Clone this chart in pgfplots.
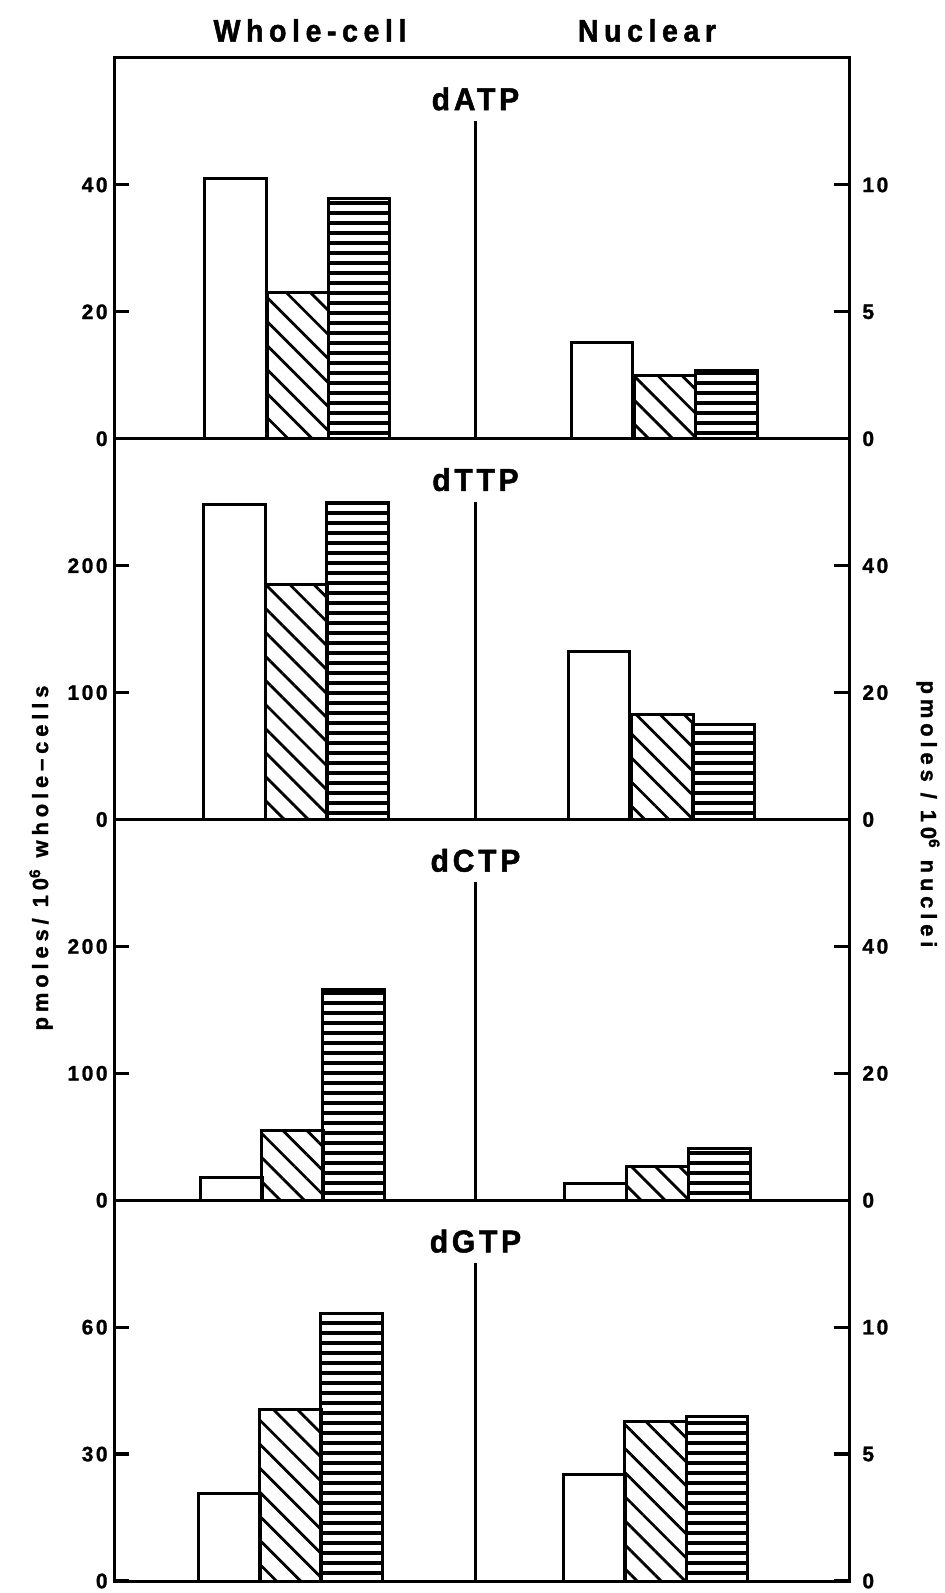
\documentclass[border=0pt]{standalone}
\usepackage{pgfplots}
\pgfplotsset{compat=1.18}
\usepackage{fontspec}
\setmainfont{Liberation Sans}
\newfontfamily\tickfont{Liberation Sans}[LetterSpace=12, BoldFeatures={FakeBold=1.2}]
\newfontfamily\headfont{Liberation Sans}[LetterSpace=18, FakeStretch=0.92, BoldFeatures={FakeBold=1.5}]
\newfontfamily\titlefont{Liberation Sans}[LetterSpace=12, FakeStretch=0.95, BoldFeatures={FakeBold=1.5}]
\newfontfamily\labfont{Liberation Sans}[LetterSpace=22, BoldFeatures={FakeBold=1.2}]
\usetikzlibrary{patterns.meta}

\pgfplotsset{
  panel/.style={scale only axis, width=367.5pt, height=190.375pt,
    xmin=0, xmax=735, ymin=0, anchor=south west,
    axis line style={line width=1.5pt}, xtick=\empty,
    tick align=inside, major tick length=7.5pt,
    every tick/.style={line width=1.6pt, black},
    /pgf/number format/assume math mode=true},
  leftax/.style={panel, ytick pos=left,
    yticklabel style={anchor=east, inner sep=0pt, xshift=-3pt,
      font=\tickfont\bfseries\fontsize{10.5}{12}\selectfont}},
  rightax/.style={panel, axis y line*=right, axis x line=none,
    yticklabel style={anchor=west, inner sep=0pt, xshift=6.5pt,
      font=\tickfont\bfseries\fontsize{10.5}{12}\selectfont}},
  bar/.style={ybar, bar width=61.5, bar shift=0pt, draw=black, line width=1.5pt},
  openbar/.style={bar, fill=white},
  diagbar/.style={bar, pattern={Lines[angle=-45,distance=8.5pt,line width=1.4pt]}, pattern color=black},
  horizbar/.style={bar, pattern={Lines[angle=0,distance=5pt,line width=1.6pt]}, pattern color=black},
}
\newcommand{\divider}[1]{%
  \draw[line width=1.2pt] (rel axis cs:0.4918,0) -- (rel axis cs:0.4918,0.835);
  \node[font=\titlefont\bfseries\fontsize{15.8}{18}\selectfont] at (rel axis cs:0.4918,0.8926) {#1};}

\begin{document}
\begin{tikzpicture}
\useasboundingbox (0,0) rectangle (472.5pt,796.5pt);

% ---------- dATP ----------
\begin{axis}[leftax, at={(57pt,577.125pt)}, ymax=60, ytick={0,20,40}, yticklabels={0,20,40}]
\addplot[openbar] coordinates {(121.5,41)};
\addplot[diagbar] coordinates {(184,23)};
\addplot[horizbar] coordinates {(245,37.8)};
\divider{dATP}
\end{axis}
\begin{axis}[rightax, at={(57pt,577.125pt)}, ymax=15, ytick={0,5,10}, yticklabels={0,5,10}]
\addplot[openbar] coordinates {(488,3.8)};
\addplot[diagbar] coordinates {(551,2.5)};
\addplot[horizbar] coordinates {(612.5,2.7)};
\end{axis}

% ---------- dTTP ----------
\begin{axis}[leftax, at={(57pt,386.75pt)}, ymax=300, ytick={0,100,200}, yticklabels={0,100,200}]
\addplot[openbar] coordinates {(120.5,248)};
\addplot[diagbar] coordinates {(182.5,185)};
\addplot[horizbar] coordinates {(243.5,250)};
\divider{dTTP}
\end{axis}
\begin{axis}[rightax, at={(57pt,386.75pt)}, ymax=60, ytick={0,20,40}, yticklabels={0,20,40}]
\addplot[openbar] coordinates {(485,26.4)};
\addplot[diagbar] coordinates {(548.5,16.6)};
\addplot[horizbar] coordinates {(609.5,14.9)};
\end{axis}

% ---------- dCTP ----------
\begin{axis}[leftax, at={(57pt,196.375pt)}, ymax=300, ytick={0,100,200}, yticklabels={0,100,200}]
\addplot[openbar] coordinates {(117.5,17.6)};
\addplot[diagbar] coordinates {(178.5,55)};
\addplot[horizbar] coordinates {(239.5,166)};
\divider{dCTP}
\end{axis}
\begin{axis}[rightax, at={(57pt,196.375pt)}, ymax=60, ytick={0,20,40}, yticklabels={0,20,40}]
\addplot[openbar] coordinates {(481.5,2.7)};
\addplot[diagbar] coordinates {(543.5,5.3)};
\addplot[horizbar] coordinates {(605.5,8.2)};
\end{axis}

% ---------- dGTP ----------
\begin{axis}[leftax, at={(57pt,6pt)}, ymax=90, ytick={0,30,60}, yticklabels={0,30,60}]
\addplot[openbar] coordinates {(115.5,20.8)};
\addplot[diagbar] coordinates {(176.5,40.6)};
\addplot[horizbar] coordinates {(237.5,63.3)};
\divider{dGTP}
\end{axis}
\begin{axis}[rightax, at={(57pt,6pt)}, ymax=15, ytick={0,5,10}, yticklabels={0,5,10}]
\addplot[openbar] coordinates {(480.5,4.2)};
\addplot[diagbar] coordinates {(541.5,6.28)};
\addplot[horizbar] coordinates {(603,6.5)};
\end{axis}

% ---------- labels ----------
\node[font=\headfont\bfseries\fontsize{15.5}{18}\selectfont] at (155pt,781.25pt) {Whole-cell};
\node[font=\headfont\bfseries\fontsize{15.5}{18}\selectfont] at (323.5pt,781.25pt) {Nuclear};
\node[rotate=90, font=\labfont\bfseries\fontsize{11}{13}\selectfont] at (20.5pt,367.5pt) {pmoles/ 10\textsuperscript{6} whole\textendash cells};
\node[rotate=-90, font=\labfont\bfseries\fontsize{11}{13}\selectfont] at (464pt,389.5pt) {pmoles / 10\textsuperscript{6} nuclei};
\end{tikzpicture}
\end{document}
